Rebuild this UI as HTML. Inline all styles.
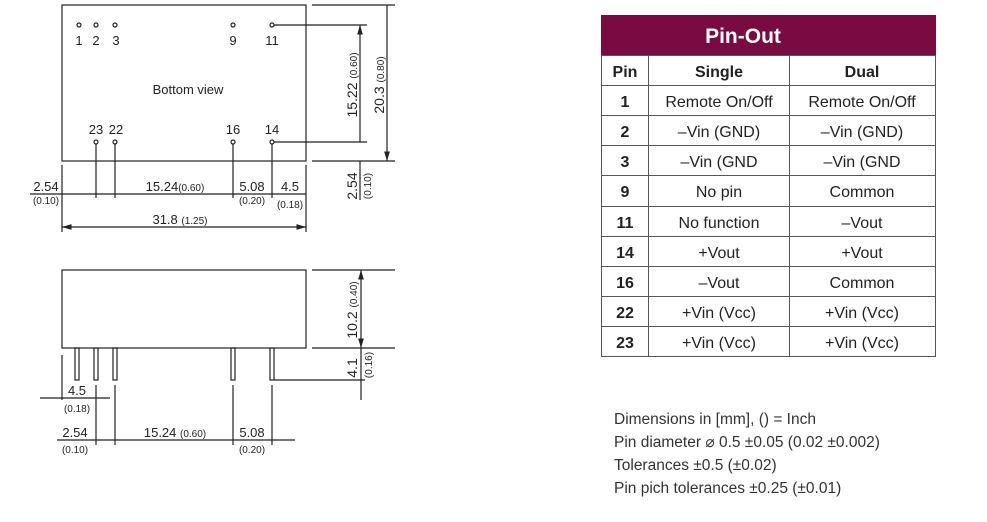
<html><head><style>body{margin:0;background:#fff}</style></head><body>
<svg width="987" height="522" xmlns="http://www.w3.org/2000/svg" font-family="Liberation Sans, sans-serif" fill="#222">
<defs><marker id="a" viewBox="0 0 10 6" refX="10" refY="3" markerWidth="8" markerHeight="5" orient="auto-start-reverse"><path d="M0 0L10 3L0 6z" fill="#222"/></marker></defs>
<g stroke="#222" stroke-width="1.2" fill="none">
<rect x="62" y="5" width="244" height="156"/>
<circle cx="79" cy="25" r="2"/><circle cx="96" cy="25" r="2"/><circle cx="115" cy="25" r="2"/><circle cx="233" cy="25" r="2"/><circle cx="272" cy="25" r="2"/>
<circle cx="96" cy="142" r="2"/><circle cx="115" cy="142" r="2"/><circle cx="233" cy="142" r="2"/><circle cx="272" cy="142" r="2"/>
<path d="M274 25H367M274 142H367M312 5H395M312 161H395M360 161V200"/>
<path d="M360 25V142M387 5V161" marker-start="url(#a)" marker-end="url(#a)"/>
<path d="M96 144V198M115 144V198M233 144V198M272 144V198M62 165V232M306 165V232M30 194H306"/>
<path d="M62 227H306" marker-start="url(#a)" marker-end="url(#a)"/>
<rect x="62" y="270" width="244" height="78"/>
<rect x="75" y="348" width="4" height="32"/><rect x="94" y="348" width="4" height="32"/><rect x="113" y="348" width="4" height="32"/><rect x="231" y="348" width="4" height="32"/><rect x="270" y="348" width="4" height="32"/>
<path d="M312 270H395M312 348H395M274 380H365M361 348V400"/>
<path d="M361 270V348" marker-start="url(#a)" marker-end="url(#a)"/>
<path d="M62 355V400M96 385V445M115 385V445M233 385V445M272 385V445M40 398H110M57 440H295"/>
</g>
<g font-size="13" text-anchor="middle">
<text x="79" y="45">1</text><text x="96" y="45">2</text><text x="116" y="45">3</text><text x="233" y="45">9</text><text x="272" y="45">11</text>
<text x="96" y="134">23</text><text x="116" y="134">22</text><text x="233" y="134">16</text><text x="272" y="134">14</text>
<text x="188" y="94" font-size="13">Bottom view</text>
<text x="46" y="191">2.54</text><text x="46" y="204" font-size="10">(0.10)</text>
<text x="175" y="191">15.24<tspan font-size="10">(0.60)</tspan></text>
<text x="252" y="191">5.08</text><text x="252" y="204" font-size="10">(0.20)</text>
<text x="290" y="191">4.5</text><text x="290" y="208" font-size="10">(0.18)</text>
<text x="180" y="224">31.8 <tspan font-size="10">(1.25)</tspan></text>
<text x="77" y="395">4.5</text><text x="77" y="412" font-size="10">(0.18)</text>
<text x="75" y="437">2.54</text><text x="75" y="453" font-size="10">(0.10)</text>
<text x="175" y="437">15.24 <tspan font-size="10">(0.60)</tspan></text>
<text x="252" y="437">5.08</text><text x="252" y="453" font-size="10">(0.20)</text>
</g>
<g font-size="14" text-anchor="middle">
<text transform="translate(357,85) rotate(-90)">15.22 <tspan font-size="10">(0.60)</tspan></text>
<text transform="translate(384,85) rotate(-90)">20.3 <tspan font-size="10">(0.80)</tspan></text>
<text transform="translate(357,186) rotate(-90)">2.54</text><text transform="translate(371,186) rotate(-90)" font-size="10">(0.10)</text>
<text transform="translate(357,310) rotate(-90)">10.2 <tspan font-size="10">(0.40)</tspan></text>
<text transform="translate(357,368) rotate(-90)">4.1</text><text transform="translate(372,365) rotate(-90)" font-size="10">(0.16)</text>
</g>
<rect x="601" y="15" width="335" height="40" fill="#7a0b42"/>
<text x="743" y="43" font-size="21" font-weight="bold" fill="#fff" text-anchor="middle">Pin-Out</text>
<g stroke="#555" stroke-width="1" fill="none">
<rect x="601.5" y="55.5" width="334" height="301"/>
<path d="M648.5 55V357M789.5 55V357M601 85.5H936M601 115.5H936M601 145.5H936M601 175.5H936M601 206.5H936M601 236.5H936M601 266.5H936M601 296.5H936M601 326.5H936"/>
</g>
<g font-size="16" text-anchor="middle">
<text x="625" y="77" font-weight="bold">Pin</text><text x="719" y="77" font-weight="bold">Single</text><text x="862" y="77" font-weight="bold">Dual</text>
<g font-weight="bold"><text x="625" y="107">1</text><text x="625" y="137">2</text><text x="625" y="167">3</text><text x="625" y="197">9</text><text x="625" y="228">11</text><text x="625" y="258">14</text><text x="625" y="288">16</text><text x="625" y="318">22</text><text x="625" y="348">23</text></g>
<text x="719" y="107">Remote On/Off</text><text x="862" y="107">Remote On/Off</text>
<text x="719" y="137">–Vin (GND)</text><text x="862" y="137">–Vin (GND)</text>
<text x="719" y="167">–Vin (GND</text><text x="862" y="167">–Vin (GND</text>
<text x="719" y="197">No pin</text><text x="862" y="197">Common</text>
<text x="719" y="228">No function</text><text x="862" y="228">–Vout</text>
<text x="719" y="258">+Vout</text><text x="862" y="258">+Vout</text>
<text x="719" y="288">–Vout</text><text x="862" y="288">Common</text>
<text x="719" y="318">+Vin (Vcc)</text><text x="862" y="318">+Vin (Vcc)</text>
<text x="719" y="348">+Vin (Vcc)</text><text x="862" y="348">+Vin (Vcc)</text>
</g>
<g font-size="15.5" fill="#333">
<text x="614" y="424">Dimensions in [mm], () = Inch</text>
<text x="614" y="447">Pin diameter ⌀ 0.5 ±0.05  (0.02 ±0.002)</text>
<text x="614" y="470">Tolerances  ±0.5 (±0.02)</text>
<text x="614" y="493">Pin pich tolerances ±0.25 (±0.01)</text>
</g>
</svg>
</body></html>
